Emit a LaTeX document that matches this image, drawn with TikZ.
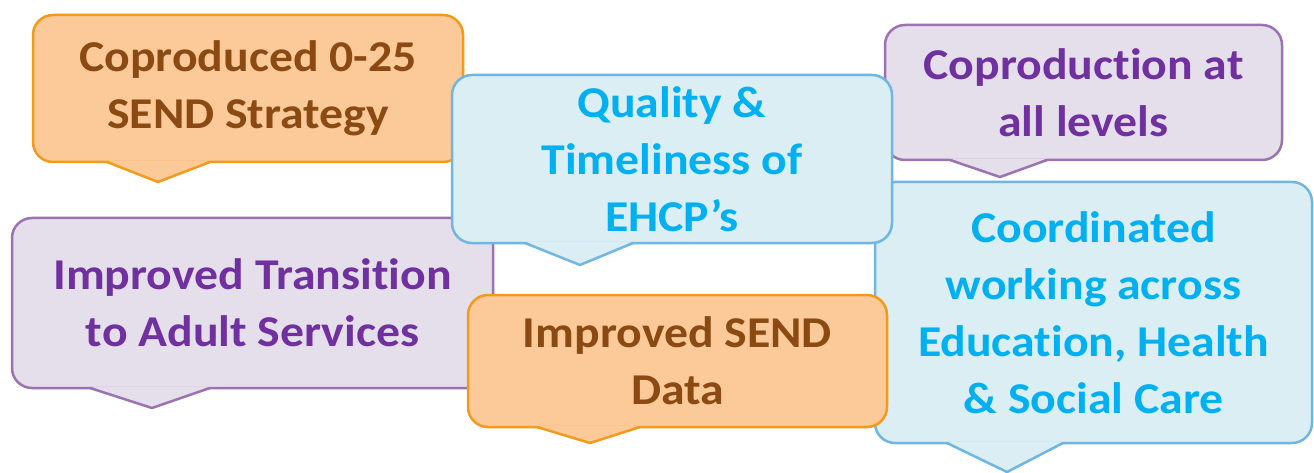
\documentclass[tikz,border=0pt]{standalone}
\usepackage{fontspec}
\setmainfont{Carlito}[FakeStretch=1.085, Ligatures=NoCommon]
\usepackage{xcolor}
\usepackage{tikz}

\definecolor{orangefill}{HTML}{FCCA99}
\definecolor{orangeline}{HTML}{F29A1C}
\definecolor{orangetext}{HTML}{8A4A12}
\definecolor{bluefill}{HTML}{DAEEF3}
\definecolor{blueline}{HTML}{70B6E3}
\definecolor{bluetext}{HTML}{00B0F0}
\definecolor{purplefill}{HTML}{E5DFEC}
\definecolor{purpleline}{HTML}{9C72B1}
\definecolor{purpletext}{HTML}{7030A0}

\begin{document}
\begin{tikzpicture}[
  x=1pt, y=-1pt,
  bubble/.style={line width=2.5pt, rounded corners=20pt, align=center,
    inner sep=0pt, font=\fontsize{44}{57}\selectfont\bfseries},
  orangebubble/.style={bubble, draw=orangeline, fill=orangefill, text=orangetext},
  bluebubble/.style={bubble, draw=blueline, fill=bluefill, text=bluetext},
  purplebubble/.style={bubble, draw=purpleline, fill=purplefill, text=purpletext},
  tail/.style={line width=2.5pt, line join=round}
]
\useasboundingbox[fill=white] (0,0) rectangle (1314,473);

% top right
\node[purplebubble, minimum width=397pt, minimum height=135pt] (coproduction) at (1083.5,92.5)
  {Coproduction at\\all levels};
\fill[purplefill] (950,158.5) -- (1047,158.5) -- (1000,177) -- cycle;
\draw[tail, purpleline] (950,160) -- (1000,177) -- (1047,160);

\node[bluebubble, minimum width=437pt, minimum height=261pt] (coordinated) at (1093.5,312.5)
  {Coordinated\\working across\\Education, Health\\\& Social Care};
\fill[bluefill] (947,441.5) -- (1063,441.5) -- (1007,472) -- cycle;
\draw[tail, blueline] (947,443) -- (1007,472) -- (1063,443);

% left column
\node[orangebubble, minimum width=430pt, minimum height=147pt] (strategy) at (248,88.5)
  {Coproduced 0-25\\SEND Strategy};
\fill[orangefill] (107,160.5) -- (210,160.5) -- (158,182) -- cycle;
\draw[tail, orangeline] (107,162) -- (158,182) -- (210,162);

\node[purplebubble, minimum width=481pt, minimum height=170pt] (transition) at (252.5,303)
  {Improved Transition\\to Adult Services};
\fill[purplefill] (90,386.5) -- (210,386.5) -- (152,408) -- cycle;
\draw[tail, purpleline] (90,388) -- (152,408) -- (210,388);

% middle column
\node[bluebubble, minimum width=440pt, minimum height=168pt] (quality) at (672,159)
  {Quality \&\\Timeliness of\\EHCP’s};
\fill[bluefill] (525,241.5) -- (633,241.5) -- (580,265) -- cycle;
\draw[tail, blueline] (525,243) -- (580,265) -- (633,243);

\node[orangebubble, minimum width=419pt, minimum height=132pt] (senddata) at (677.5,361)
  {Improved SEND\\Data};
\fill[orangefill] (537,425.5) -- (640,425.5) -- (590,443) -- cycle;
\draw[tail, orangeline] (537,427) -- (590,443) -- (640,427);
\end{tikzpicture}
\end{document}
